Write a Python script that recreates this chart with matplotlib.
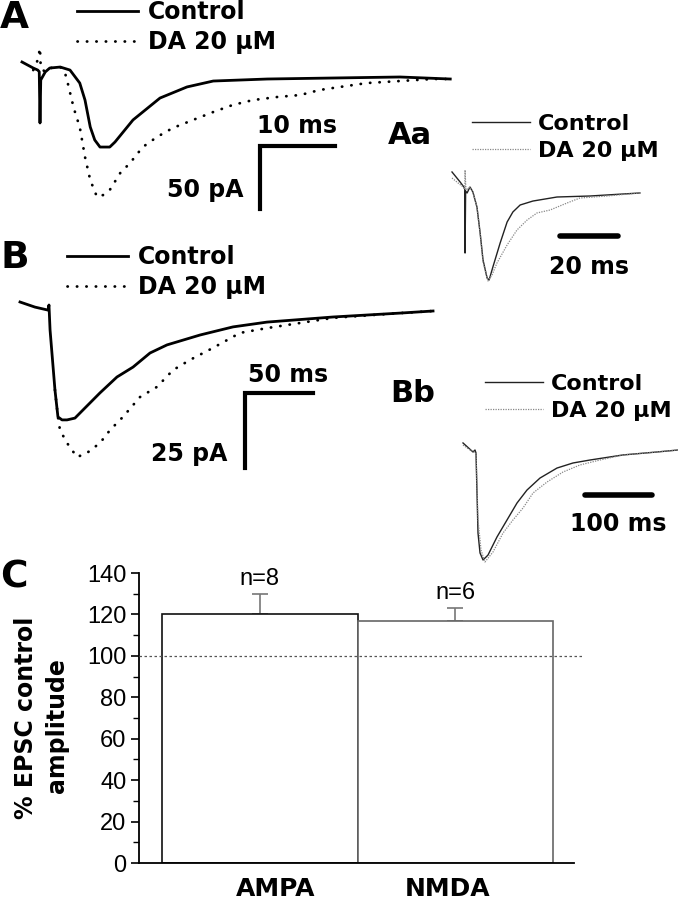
import matplotlib
matplotlib.use('Agg')
import matplotlib.pyplot as plt
from matplotlib.ticker import MultipleLocator

plt.rcParams['font.family'] = ['DejaVu Sans']

# --- trace data (time in ms, current in pA or % of peak) ---
# A: AMPA EPSC
A_ctrl_t = [0, 1.5, 2.1, 2.3, 2.4, 2.5, 3.1, 3.7, 5.1, 6.4, 7.7, 8.4, 9.1, 9.7, 10.4, 11.7, 12.4,
            14.8, 18.4, 22.0, 25.5, 32.7, 41.5, 50.4, 57.1]
A_ctrl_i = [12.7, 7.9, 6.3, 5.0, -35.7, -1.6, 4.8, 7.9, 8.7, 6.3, -4.0, -17.5, -38.9, -49.2, -54.8,
            -54.8, -50.8, -33.3, -15.9, -7.1, -2.4, -0.8, 0, 0.8, -0.8]
A_da_t = [1.5, 2.1, 2.4, 2.5, 3.1, 3.7, 5.1, 5.7, 6.1, 6.7, 7.1, 7.7, 8.4, 9.1, 10.0, 10.8, 11.7,
          13.1, 14.4, 16.1, 18.0, 20.1, 22.8, 25.5, 28.1, 30.8, 34.0, 37.1, 39.7, 42.4, 46.0, 50.4,
          54.8, 57.1]
A_da_i = [6.3, 14.3, 23.8, 7.9, 4.8, 7.9, 8.7, 4.8, -4.0, -19.0, -27.8, -38.9, -62.7, -81.0, -94.4,
          -92.9, -88.9, -75.4, -67.5, -54.8, -46.8, -39.7, -33.3, -27.0, -21.4, -17.5, -15.1, -13.5,
          -9.5, -7.1, -4.0, -2.4, -0.8, -0.8]

# Aa: normalised AMPA traces (% of peak)
Aa_ctrl_t = [0, 2.8, 4.1, 4.4, 4.5, 4.7, 5.2, 6.2, 7.2, 8.6, 9.7, 10.7, 12.1, 12.8, 14.1, 16.6,
             19.0, 21.0, 23.5, 27.9, 36.2, 47.6, 64.8]
Aa_ctrl_y = [28.6, 16.7, 10.7, 8, -67.9, 6, 3.6, 10.7, 4.8, -13.1, -44.0, -76.2, -97.6, -100,
             -84.5, -56.0, -31.0, -19.0, -10.7, -6.0, -1.2, 0, 3.6]
Aa_da_t = [0, 3.8, 4.4, 4.5, 4.8, 6.2, 7.2, 8.6, 9.7, 10.7, 12.4, 13.8, 15.5, 19.0, 22.4, 25.9,
           29.3, 33.8, 39.7, 44.1, 53.4, 64.8]
Aa_da_y = [21.4, 10.7, 8, 31.0, 7.1, 10.7, 4.8, -13.1, -44.0, -78.6, -101.2, -94.0, -79.8, -58.3,
           -40.5, -28.6, -20.2, -16.7, -8.3, -2.4, 0, 3.6]

# B: NMDA EPSC
B_ctrl_t = [0, 11.0, 20.6, 21.3, 22.1, 25.7, 27.9, 30.9, 34.6, 40.4, 46.3, 58.8, 71.3, 83.1, 95.6,
            108.1, 132.4, 156.6, 181.6, 230.1, 279.4, 303.7]
B_ctrl_i = [3.0, 1.3, 0.3, 2.0, -6.3, -26.3, -35.3, -36.3, -36.3, -35.7, -33.0, -27.3, -22.0, -18.7,
            -14.0, -11.3, -8.0, -5.3, -3.7, -2.0, -0.7, 0]
B_da_t = [25.7, 27.9, 29.4, 34.6, 41.9, 49.3, 58.8, 66.2, 75.7, 88.2, 100.7, 112.5, 125.0, 141.9,
          161.8, 181.6, 230.1, 279.4, 303.7]
B_da_i = [-26.3, -35.3, -39.7, -44.0, -48.7, -47.3, -44.0, -39.7, -35.3, -28.7, -25.3, -19.7, -16.3,
          -12.3, -7.3, -5.7, -2.3, -0.7, 0]

# Bb: normalised NMDA traces (% of peak)
Bb_ctrl_t = [0, 14.9, 17.9, 19.4, 22.4, 25.4, 29.9, 37.3, 50.7, 65.7, 80.6, 95.5, 114.9, 140.3,
             164.2, 189.6, 238.8, 289.6, 320.9]
Bb_ctrl_y = [6.4, -1.8, 0, -2.7, -75.5, -93.6, -100, -95.5, -79.1, -63.6, -48.2, -36.4, -25.5, -16.4,
             -11.8, -9.1, -4.5, -1.8, 0]
Bb_da_t = [0, 14.9, 19.4, 22.4, 26.9, 32.8, 44.8, 59.7, 74.6, 89.6, 104.5, 125.4, 149.3, 174.6,
           204.5, 238.8, 289.6, 320.9]
Bb_da_y = [4.5, -1.8, -2.7, -63.6, -90.9, -101.8, -92.7, -75.5, -63.6, -52.7, -39.1, -29.1, -20.0,
           -13.6, -9.1, -4.5, -1.8, 0]

# C: summary
groups = ['AMPA', 'NMDA']
pct_amp = [120, 117]
pct_err = [10, 6]
n_cells = [8, 6]

W, H = 678, 900
fig = plt.figure(figsize=(W / 100, H / 100), dpi=100)
LEG = ['Control', 'DA 20 μM']


def px_axes(left, top, right, bottom, x0, y0, sx, sy):
    # axes placed on a pixel box; (x0, y0) is where t=0 / baseline sits, sx, sy are px per unit
    ax = fig.add_axes([left / W, 1 - bottom / H, (right - left) / W, (bottom - top) / H])
    ax.set_xlim((left - x0) / sx, (right - x0) / sx)
    ax.set_ylim((y0 - bottom) / sy, (y0 - top) / sy)
    ax.axis('off')
    ax.patch.set_visible(False)
    return ax


def legend(ax, handles, x, y, fs, hl, pad, sp):
    ax.legend(handles, LEG, loc='upper left', bbox_to_anchor=(x / W, 1 - y / H),
              bbox_transform=fig.transFigure, frameon=False, borderpad=0, borderaxespad=0,
              handlelength=hl, handletextpad=pad, labelspacing=sp,
              prop={'weight': 'bold', 'size': fs})


dotted = dict(color='black', lw=2.0, linestyle=(0, (0.1, 3.3)), dash_capstyle='round')
fine_dot = dict(color='#888888', lw=0.9, linestyle=(0, (1, 1)))
bold = dict(fontweight='bold', fontsize=17)

# ---------------- A ----------------
axA = px_axes(0, 0, 460, 215, 22, 78, 7.5, 1.26)
c1, = axA.plot(A_ctrl_t, A_ctrl_i, color='black', lw=2.0)
d1, = axA.plot(A_da_t, A_da_i, **dotted)
ta, ia = 31.7, -54.0
axA.plot([ta, ta, ta + 10], [ia - 50, ia, ia], color='black', lw=3, solid_joinstyle='miter')
axA.annotate('10 ms', (ta + 5, ia), xytext=(0, 9.5), textcoords='offset points',
             ha='center', va='baseline', **bold)
axA.annotate('50 pA', (ta, ia - 50), xytext=(-12, 8.5), textcoords='offset points',
             ha='right', va='baseline', **bold)
legend(axA, [c1, d1], 77, 0, 17, 2.6, 0.42, 0.25)

# ---------------- Aa ----------------
axAa = px_axes(440, 100, 678, 300, 452, 196, 2.9, 0.84)
c2, = axAa.plot(Aa_ctrl_t, Aa_ctrl_y, color='#222222', lw=1.0)
d2, = axAa.plot(Aa_da_t, Aa_da_y, **fine_dot)
tb, yb = 37.2, -47.6
axAa.plot([tb, tb + 20], [yb, yb], color='black', lw=4, solid_capstyle='round')
axAa.annotate('20 ms', (tb + 10, yb), xytext=(0, -27.5), textcoords='offset points',
              ha='center', va='baseline', **bold)
legend(axAa, [c2, d2], 472, 114, 16, 2.6, 0.36, 0.3)

# ---------------- B ----------------
axB = px_axes(0, 230, 450, 480, 20, 311, 1.36, 3.0)
c3, = axB.plot(B_ctrl_t, B_ctrl_i, color='black', lw=2.0)
d3, = axB.plot(B_da_t, B_da_i, **dotted)
tc, ic = 165.4, -27.3
axB.plot([tc, tc, tc + 50], [ic - 25, ic, ic], color='black', lw=3, solid_joinstyle='miter')
axB.annotate('50 ms', (tc + 25, ic), xytext=(6.5, 8), textcoords='offset points',
             ha='center', va='baseline', **bold)
axB.annotate('25 pA', (tc, ic - 25), xytext=(-13, 5), textcoords='offset points',
             ha='right', va='baseline', **bold)
legend(axB, [c3, d3], 67, 245, 17, 2.6, 0.42, 0.25)

# ---------------- Bb ----------------
axBb = px_axes(440, 360, 678, 580, 463, 450, 0.67, 1.1)
c4, = axBb.plot(Bb_ctrl_t, Bb_ctrl_y, color='#222222', lw=1.0)
d4, = axBb.plot(Bb_da_t, Bb_da_y, **fine_dot)
td, yd = 182, -40.9
axBb.plot([td, td + 100], [yd, yd], color='black', lw=4, solid_capstyle='round')
axBb.annotate('100 ms', (td + 50, yd), xytext=(0, -26), textcoords='offset points',
              ha='center', va='baseline', **bold)
legend(axBb, [c4, d4], 485, 374, 16, 2.6, 0.36, 0.3)

# ---------------- panel letters ----------------
for s, x, y, fs in [('A', 0, 18, 27), ('B', 0, 258, 27), ('C', 0, 578, 27),
                    ('Aa', 388, 136, 22), ('Bb', 390, 393, 22)]:
    fig.text(x / W, 1 - y / H, s, fontsize=fs, fontweight='bold', ha='left', va='center')

# ---------------- C: bar chart ----------------
axC = fig.add_axes([139 / W, 1 - 863 / H, 435 / W, 290 / H])
xs = [0, 1]
axC.errorbar(xs, pct_amp, yerr=[[0, 0], pct_err], fmt='none', ecolor='#777777',
             elinewidth=1.2, capsize=6, capthick=1.2, zorder=1)
axC.bar(xs, pct_amp, width=1, color='white', edgecolor=['#111111', '#666666'],
        linewidth=1.2, zorder=2)
axC.hlines(100, -0.62, 1.65, colors='#555555', linestyles=(0, (2, 2)), lw=0.9,
           clip_on=False, zorder=3)
for x, v, e, n in zip(xs, pct_amp, pct_err, n_cells):
    axC.annotate(f'n={n}', (x, v + e), xytext=(0, 6.5), textcoords='offset points',
                 ha='center', va='baseline', fontsize=17, family='Liberation Sans')
axC.set_xlim(-0.618, 1.607)
axC.set_ylim(0, 140)
axC.yaxis.set_major_locator(MultipleLocator(20))
axC.yaxis.set_minor_locator(MultipleLocator(10))
axC.tick_params(axis='y', which='major', direction='out', length=6, width=1.2,
                labelsize=17, pad=3)
axC.tick_params(axis='y', which='minor', direction='out', length=4, width=1)
for lab in axC.get_yticklabels():
    lab.set_family('Liberation Sans')
axC.set_xticks([0.08, 0.96])
axC.set_xticklabels(groups, fontweight='bold', fontsize=18)
axC.tick_params(axis='x', length=0, pad=10)
for sp in ['top', 'right']:
    axC.spines[sp].set_visible(False)
for sp in ['left', 'bottom']:
    axC.spines[sp].set_linewidth(1.3)
axC.patch.set_visible(False)

fig.text(26 / W, 1 - 718 / H, '% EPSC control', rotation=90, ha='center', va='center', **bold)
fig.text(57 / W, 1 - 726 / H, 'amplitude', rotation=90, ha='center', va='center', **bold)

fig.savefig('out.png', dpi=100)
